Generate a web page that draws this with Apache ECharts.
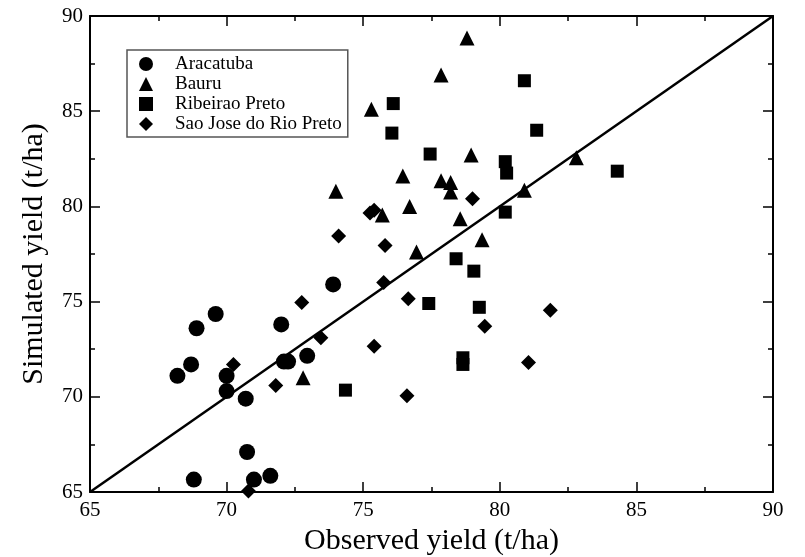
<!DOCTYPE html>
<html>
<head>
<meta charset="utf-8">
<script src="https://cdn.jsdelivr.net/npm/echarts@6/dist/echarts.min.js"></script>
<style>
  html, body { margin: 0; padding: 0; background: #fff; }
  #chart { width: 805px; height: 557px; }
</style>
</head>
<body>
<div id="chart"></div>
<script>
// observed / simulated yield pairs per site, [x, y]
const aracatuba = [
  [68.2, 71.1], [68.7, 71.7], [68.9, 73.6], [69.6, 74.35], [70.0, 71.1],
  [70.0, 70.3], [70.7, 69.9], [70.75, 67.1], [68.8, 65.65], [71.0, 65.65],
  [71.6, 65.85], [72.0, 73.8], [72.1, 71.85], [72.25, 71.85], [72.95, 72.15],
  [73.9, 75.9]
];
const bauru = [
  [75.3, 85.1], [74.0, 80.8], [76.45, 81.6], [76.7, 80.0], [75.7, 79.55],
  [76.95, 77.6], [77.85, 86.9], [78.8, 88.85], [77.85, 81.35], [78.2, 81.25],
  [78.2, 80.75], [78.95, 82.7], [82.8, 82.55], [80.9, 80.85], [78.55, 79.35],
  [79.35, 78.25], [72.8, 71.0]
];
const ribeiraoPreto = [
  [76.1, 85.4], [76.05, 83.85], [77.45, 82.75], [80.9, 86.6], [81.35, 84.0],
  [80.2, 82.35], [80.25, 81.75], [84.3, 81.85], [80.2, 79.7], [78.4, 77.25],
  [79.05, 76.6], [77.4, 74.9], [79.25, 74.7], [78.65, 72.05], [78.65, 71.7],
  [74.35, 70.35]
];
const saoJose = [
  [75.25, 79.65], [75.4, 79.8], [74.1, 78.45], [75.8, 77.95], [79.0, 80.4],
  [75.75, 76.0], [76.65, 75.15], [72.75, 74.95], [73.45, 73.1], [75.4, 72.65],
  [70.25, 71.7], [71.8, 70.6], [76.6, 70.05], [70.8, 65.05], [81.85, 74.55],
  [79.45, 73.7], [81.05, 71.8]
];
const oneToOne = [[65, 65], [90, 90]];

const font = '"Liberation Serif", "DejaVu Serif", serif';

let myChart = echarts.init(document.getElementById('chart'));

function axisBase(extra) {
  return Object.assign({
    type: 'value',
    min: 65,
    max: 90,
    interval: 5,
    axisLine: { show: true, onZero: false, lineStyle: { color: '#000', width: 2 } },
    axisTick: { show: true, inside: true, length: 10, lineStyle: { color: '#000', width: 1.5 } },
    minorTick: { show: true, splitNumber: 2, length: 5, lineStyle: { color: '#000', width: 1.5 } },
    splitLine: { show: false },
    axisLabel: { show: false }
  }, extra);
}

const nameStyle = { color: '#000', fontFamily: font, fontSize: 30 };

let options = {
  animation: false,
  backgroundColor: '#fff',
  grid: { left: 90, right: 32, top: 16, bottom: 65, containLabel: false, outerBoundsMode: 'none' },
  legend: {
    orient: 'vertical',
    left: 127,
    top: 50,
    padding: [4, 6, 3, 12],
    itemGap: 0,
    itemWidth: 14,
    itemHeight: 14,
    borderColor: '#555',
    borderWidth: 1.5,
    borderRadius: 0,
    textStyle: { color: '#000', fontFamily: font, fontSize: 19, lineHeight: 20, padding: [0, 0, 0, 17] },
    data: [
      { name: 'Aracatuba', icon: 'circle' },
      { name: 'Bauru', icon: 'triangle' },
      { name: 'Ribeirao Preto', icon: 'rect' },
      { name: 'Sao Jose do Rio Preto', icon: 'diamond' }
    ]
  },
  xAxis: [
    axisBase({
      position: 'bottom',
      name: 'Observed yield (t/ha)',
      nameLocation: 'middle',
      nameGap: 31,
      nameTextStyle: nameStyle,
      axisLabel: { show: true, color: '#000', fontFamily: font, fontSize: 21, margin: 8 }
    }),
    axisBase({ position: 'top' })
  ],
  yAxis: [
    axisBase({
      position: 'left',
      name: 'Simulated yield (t/ha)',
      nameLocation: 'middle',
      nameGap: 41,
      nameTextStyle: nameStyle,
      axisLabel: { show: true, color: '#000', fontFamily: font, fontSize: 21, margin: 7 }
    }),
    axisBase({ position: 'right' })
  ],
  series: [
    {
      name: '1:1',
      type: 'line',
      data: oneToOne,
      symbol: 'none',
      lineStyle: { color: '#000', width: 2.5 },
      silent: true,
      z: 1
    },
    {
      name: 'Aracatuba',
      type: 'scatter',
      symbol: 'circle',
      symbolSize: 16,
      itemStyle: { color: '#000', opacity: 1 },
      data: aracatuba
    },
    {
      name: 'Bauru',
      type: 'scatter',
      symbol: 'triangle',
      symbolSize: 15,
      itemStyle: { color: '#000', opacity: 1 },
      data: bauru
    },
    {
      name: 'Ribeirao Preto',
      type: 'scatter',
      symbol: 'rect',
      symbolSize: 13,
      itemStyle: { color: '#000', opacity: 1 },
      data: ribeiraoPreto
    },
    {
      name: 'Sao Jose do Rio Preto',
      type: 'scatter',
      symbol: 'diamond',
      symbolSize: 15,
      itemStyle: { color: '#000', opacity: 1 },
      data: saoJose
    }
  ]
};

myChart.setOption(options);
</script>
</body>
</html>
